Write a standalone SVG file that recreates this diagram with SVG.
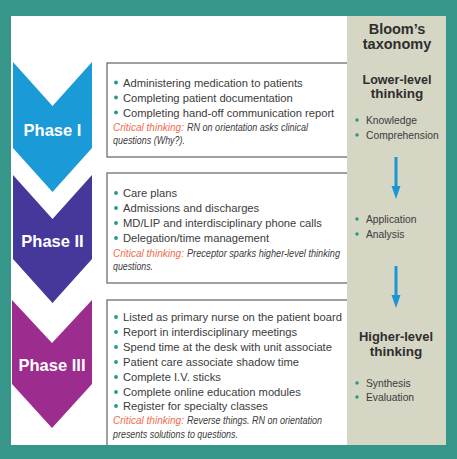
<svg xmlns="http://www.w3.org/2000/svg" width="457" height="459" viewBox="0 0 457 459">
<defs>
<style>
.item{font-family:"Liberation Sans",Arial,sans-serif;font-size:11.2px;fill:#3b3b3b}
.crit{font-family:"Liberation Sans",Arial,sans-serif;font-size:10.5px;font-style:italic;fill:#3b3b3b}
.or{fill:#f26b4b}
.phase{font-family:"Liberation Sans",Arial,sans-serif;font-size:16.5px;font-weight:bold;fill:#ffffff;text-anchor:middle}
.head{font-family:"Liberation Sans",Arial,sans-serif;font-size:14.5px;font-weight:bold;fill:#2e2e2e;text-anchor:middle}
.lvl{font-family:"Liberation Sans",Arial,sans-serif;font-size:13.5px;font-weight:bold;fill:#2e2e2e;text-anchor:middle}
.tax{font-family:"Liberation Sans",Arial,sans-serif;font-size:10.3px;fill:#3b3b3b}
.dot{fill:#1f9a8a}
.box{fill:#ffffff;stroke:#6e6e6e;stroke-width:1.3}
.shaft{stroke:#1b96d3;stroke-width:3;fill:none}
.tip{fill:#1b96d3}
</style>
</defs>
<rect x="0" y="0" width="457" height="459" fill="#36968a"/>
<rect x="11" y="16" width="336" height="429" fill="#ffffff"/>

<g id="box1">
<rect class="box" x="107" y="63" width="260" height="94"/>
<circle class="dot" cx="116" cy="82.5" r="1.9"/><text class="item" x="123" y="86.5">Administering medication to patients</text>
<circle class="dot" cx="116" cy="97.5" r="1.9"/><text class="item" x="123" y="101.5">Completing patient documentation</text>
<circle class="dot" cx="116" cy="112.5" r="1.9"/><text class="item" x="123" y="116.5">Completing hand-off communication report</text>
<text class="crit or" x="113" y="131" textLength="71" lengthAdjust="spacingAndGlyphs">Critical thinking:</text>
<text class="crit" x="187" y="131" textLength="121" lengthAdjust="spacingAndGlyphs">RN on orientation asks clinical</text>
<text class="crit" x="113" y="144" textLength="72" lengthAdjust="spacingAndGlyphs">questions (Why?).</text>
</g>

<g id="box2">
<rect class="box" x="107" y="173" width="260" height="110"/>
<circle class="dot" cx="116" cy="193" r="1.9"/><text class="item" x="123" y="197">Care plans</text>
<circle class="dot" cx="116" cy="208" r="1.9"/><text class="item" x="123" y="212">Admissions and discharges</text>
<circle class="dot" cx="116" cy="223" r="1.9"/><text class="item" x="123" y="227">MD/LIP and interdisciplinary phone calls</text>
<circle class="dot" cx="116" cy="238" r="1.9"/><text class="item" x="123" y="242">Delegation/time management</text>
<text class="crit or" x="113" y="257" textLength="71" lengthAdjust="spacingAndGlyphs">Critical thinking:</text>
<text class="crit" x="187" y="257" textLength="153" lengthAdjust="spacingAndGlyphs">Preceptor sparks higher-level thinking</text>
<text class="crit" x="113" y="270" textLength="40" lengthAdjust="spacingAndGlyphs">questions.</text>
</g>

<g id="box3">
<rect class="box" x="107" y="300" width="260" height="155"/>
<circle class="dot" cx="116" cy="317" r="1.9"/><text class="item" x="123" y="321">Listed as primary nurse on the patient board</text>
<circle class="dot" cx="116" cy="332" r="1.9"/><text class="item" x="123" y="336">Report in interdisciplinary meetings</text>
<circle class="dot" cx="116" cy="347" r="1.9"/><text class="item" x="123" y="351">Spend time at the desk with unit associate</text>
<circle class="dot" cx="116" cy="362" r="1.9"/><text class="item" x="123" y="366">Patient care associate shadow time</text>
<circle class="dot" cx="116" cy="377" r="1.9"/><text class="item" x="123" y="381">Complete I.V. sticks</text>
<circle class="dot" cx="116" cy="392" r="1.9"/><text class="item" x="123" y="396">Complete online education modules</text>
<circle class="dot" cx="116" cy="406" r="1.9"/><text class="item" x="123" y="410">Register for specialty classes</text>
<text class="crit or" x="113" y="424" textLength="71" lengthAdjust="spacingAndGlyphs">Critical thinking:</text>
<text class="crit" x="187" y="424" textLength="135" lengthAdjust="spacingAndGlyphs">Reverse things. RN on orientation</text>
<text class="crit" x="113" y="438" textLength="125" lengthAdjust="spacingAndGlyphs">presents solutions to questions.</text>
</g>
<rect x="0" y="445" width="457" height="14" fill="#36968a"/>

<g id="phase1">
<polygon points="13,62 52.5,106 92,62 92,148 52.5,192 13,148" fill="#1a9ad6"/>
<text class="phase" x="52.5" y="136">Phase I</text>
</g>
<g id="phase2">
<polygon points="13,175 52.5,219 92,175 92,259 52.5,303 13,259" fill="#44399a"/>
<text class="phase" x="52.5" y="247">Phase II</text>
</g>
<g id="phase3">
<polygon points="12,300 52,343 92,300 92,384 52,428 12,384" fill="#9c2c8e"/>
<text class="phase" x="52" y="371">Phase III</text>
</g>

<g id="bloom">
<rect x="347" y="16" width="99" height="429" fill="#d6d6c4"/>
<text class="head" x="397" y="34">Bloom’s</text>
<text class="head" x="397" y="49">taxonomy</text>
</g>
<g id="lower">
<text class="lvl" x="397" y="84" textLength="69" lengthAdjust="spacingAndGlyphs">Lower-level</text>
<text class="lvl" x="397" y="98">thinking</text>
<circle class="dot" cx="357" cy="120" r="1.7"/><text class="tax" x="366" y="123.5">Knowledge</text>
<circle class="dot" cx="357" cy="135" r="1.7"/><text class="tax" x="366" y="138.5">Comprehension</text>
</g>
<g id="middle">
<circle class="dot" cx="357" cy="219" r="1.7"/><text class="tax" x="366" y="222.5">Application</text>
<circle class="dot" cx="357" cy="234" r="1.7"/><text class="tax" x="366" y="237.5">Analysis</text>
</g>
<g id="higher">
<text class="lvl" x="396" y="341" textLength="74" lengthAdjust="spacingAndGlyphs">Higher-level</text>
<text class="lvl" x="396" y="356">thinking</text>
<circle class="dot" cx="357" cy="383" r="1.7"/><text class="tax" x="366" y="386.5">Synthesis</text>
<circle class="dot" cx="357" cy="397" r="1.7"/><text class="tax" x="366" y="400.5">Evaluation</text>
</g>

<g id="connectors">
<line class="shaft" x1="396" y1="157" x2="396" y2="188"/>
<polygon class="tip" points="391.5,186 400.5,186 396,199"/>
<line class="shaft" x1="396" y1="266" x2="396" y2="297"/>
<polygon class="tip" points="391.5,295 400.5,295 396,308"/>
</g>
</svg>
